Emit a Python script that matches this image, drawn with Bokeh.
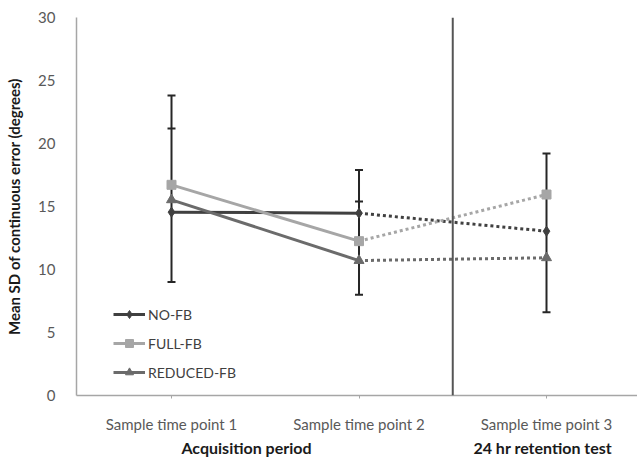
from bokeh.plotting import figure
from bokeh.models import (Range1d, FixedTicker, Whisker, TeeHead, ColumnDataSource,
                          Legend, LegendItem, Span, LinearAxis)
from bokeh.embed import file_html
from bokeh.resources import INLINE

# ---- data ----
time_points = [1, 2, 3]
tick_labels = ["Sample time point 1", "Sample time point 2", "Sample time point 3"]
no_fb = [14.55, 14.47, 13.04]
full_fb = [16.72, 12.25, 15.95]
reduced_fb = [15.53, 10.71, 10.93]
err_lower = [9.0, 8.0, 6.6]
err_upper = [23.8, 17.9, 19.2]
err_mid_x = [1, 2]
err_mid = [21.2, 15.4]
divider_x = 2.5
group_labels = ["Acquisition period", "24 hr retention test"]
group_x = [1.4, 2.98]

FONT = "Lato"

p = figure(width=637, height=459, output_backend="svg", toolbar_location=None,
           x_range=Range1d(0.4933, 3.4853), y_range=Range1d(0, 30),
           min_border_left=76, min_border_top=17, min_border_right=0, min_border_bottom=64)
p.outline_line_color = None
p.xgrid.visible = False
p.ygrid.visible = False
p.background_fill_color = "white"

# axes
p.yaxis.ticker = FixedTicker(ticks=[0, 5, 10, 15, 20, 25, 30])
p.yaxis.axis_label = "Mean SD of continuous error (degrees)"
p.yaxis.axis_label_text_font = FONT
p.yaxis.axis_label_text_font_style = "bold"
p.yaxis.axis_label_text_font_size = "15px"
p.yaxis.axis_label_text_color = "#1a1a1a"
p.yaxis.axis_label_standoff = 12
p.yaxis.major_label_text_font = FONT
p.yaxis.major_label_text_font_size = "15px"
p.yaxis.major_label_text_color = "#595959"
p.yaxis.major_label_standoff = 15
p.yaxis.major_tick_line_color = None
p.yaxis.minor_tick_line_color = None
p.yaxis.axis_line_color = "#a6a6a6"
p.yaxis.axis_line_width = 1.5

p.xaxis.ticker = FixedTicker(ticks=time_points)
p.xaxis.major_label_overrides = {t: l for t, l in zip(time_points, tick_labels)}
p.xaxis.major_label_text_font = FONT
p.xaxis.major_label_text_font_size = "15px"
p.xaxis.major_label_text_color = "#595959"
p.xaxis.major_label_standoff = 16
p.xaxis.major_tick_in = 0
p.xaxis.major_tick_out = 3
p.xaxis.major_tick_line_color = "#a6a6a6"
p.xaxis.minor_tick_line_color = None
p.xaxis.axis_line_color = "#a6a6a6"
p.xaxis.axis_line_width = 1.5

gaxis = LinearAxis(ticker=FixedTicker(ticks=group_x),
                   major_label_overrides={x: l for x, l in zip(group_x, group_labels)},
                   major_label_text_font=FONT, major_label_text_font_style="bold",
                   major_label_text_font_size="16px", major_label_text_color="#1a1a1a",
                   major_label_standoff=2, axis_line_color=None, major_tick_line_color=None,
                   minor_tick_line_color=None, major_tick_in=0, major_tick_out=0)
p.add_layout(gaxis, "below")

# divider
p.add_layout(Span(location=divider_x, dimension="height", line_color="#555555", line_width=2))

series = [("NO-FB", no_fb, "#404040", "diamond", 10),
          ("FULL-FB", full_fb, "#a6a6a6", "square", 9),
          ("REDUCED-FB", reduced_fb, "#6b6b6b", "triangle", 10)]

solid_r = {}
for name, vals, col, mk, sz in series:
    solid_r[name] = p.line(time_points[:2], vals[:2], line_color=col, line_width=3)
    p.line(time_points[1:], vals[1:], line_color=col, line_width=3, line_dash="3 3")

# error bars
eb = ColumnDataSource(dict(x=time_points, lo=err_lower, hi=err_upper))
p.add_layout(Whisker(source=eb, base="x", lower="lo", upper="hi", line_color="#262626", line_width=2,
                     upper_head=TeeHead(size=8, line_color="#262626", line_width=2),
                     lower_head=TeeHead(size=8, line_color="#262626", line_width=2)))
em = ColumnDataSource(dict(x=err_mid_x, lo=err_mid, hi=err_mid))
p.add_layout(Whisker(source=em, base="x", lower="lo", upper="hi", line_color="#262626", line_width=2,
                     upper_head=TeeHead(size=8, line_color="#262626", line_width=2),
                     lower_head=None))

items = []
for name, vals, col, mk, sz in series:
    sr = p.scatter(time_points, vals, marker=mk, size=sz, fill_color=col, line_color=col)
    items.append(LegendItem(label=name, renderers=[solid_r[name], sr]))

legend = Legend(items=items, location=(37, 13), glyph_width=32, glyph_height=20,
                label_height=20, spacing=9, padding=10, label_standoff=3,
                label_text_font=FONT, label_text_font_size="14px", label_text_color="#404040",
                border_line_color=None, background_fill_alpha=0)
p.add_layout(legend, "center")

open("out.html", "w").write(file_html(p, INLINE))
